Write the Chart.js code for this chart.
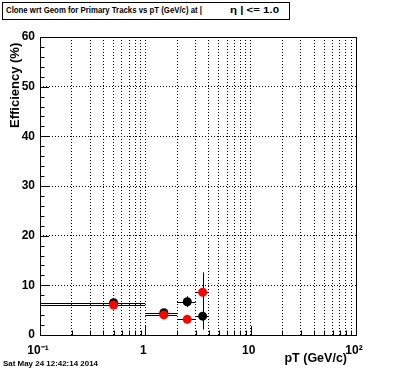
<!DOCTYPE html>
<html>
<head>
<meta charset="utf-8">
<script src="https://cdn.jsdelivr.net/npm/chart.js@4/dist/chart.umd.min.js"></script>
<style>
  html, body { margin: 0; padding: 0; background: #fff; }
  #wrap { position: relative; width: 396px; height: 372px; overflow: hidden; }
  #c { position: absolute; left: 0; top: 0; }
  .txt { position: absolute; font-family: "Liberation Sans", Arial, sans-serif; font-weight: bold; color: #000; white-space: nowrap; transform-origin: 0 0; }
  #titleBox { position: absolute; left: 2px; top: 2px; width: 288px; height: 18px; border: 1px solid #000; background: #fff; box-sizing: border-box; }
</style>
</head>
<body>
<div id="wrap">
  <canvas id="c" width="396" height="372"></canvas>
  <div id="titleBox"></div>
  <span class="txt" id="t1" style="left:6px; top:5px; font-size:9px;">Clone wrt Geom for Primary Tracks vs pT (GeV/c) at |</span>
  <span class="txt" id="t2" style="left:230px; top:5px; font-size:9px;">η | &lt;= 1.0</span>
  <span class="txt" id="ytitle" style="font-size:13px;">Efficiency (%)</span>
  <span class="txt" id="xtitle" style="font-size:12.5px;">pT (GeV/c)</span>
  <span class="txt" id="date" style="left:3px; top:359px; font-size:8px;">Sat May 24 12:42:14 2014</span>
</div>
<script>
// Clone efficiency wrt geometry, primary tracks, |eta| <= 1.0, per pT bin.
const binCenter = [0.5, 1.5, 2.5, 3.5];
const binLow = [0, 1, 2, 3];
const binHigh = [1, 2, 3, 4];

// black markers
const effBlack = [6.5, 4.5, 6.7, 3.8];
const errBlack = [0.3, 0.3, 1.1, 2.7];

// red markers
const effRed = [6.05, 4.05, 3.15, 8.6];
const errRed = [0.3, 0.3, 0.4, 4.0];

// log axis ticks, labels only on decades
const xTickValues = [
  0.1,0.2,0.3,0.4,0.5,0.6,0.7,0.8,0.9,
  1,2,3,4,5,6,7,8,9,
  10,20,30,40,50,60,70,80,90,100
];
const xTickLabels = { 0.1: '10⁻¹', 1: '1', 10: '10', 100: '10²' };

// squeeze the small ROOT-style texts to their widths in the picture
function fitWidth(id, w) {
  const el = document.getElementById(id);
  const s = w / el.getBoundingClientRect().width;
  el.style.transform = 'scaleX(' + s + ')';
}
fitWidth('t1', 196);
fitWidth('t2', 49);
fitWidth('date', 95);

const yt = document.getElementById('ytitle');
const yth = yt.getBoundingClientRect().height;
yt.style.left = (14 - yth / 2) + 'px';
yt.style.top = '128px';
yt.style.transform = 'rotate(-90deg)';

const xt = document.getElementById('xtitle');
const xtw = xt.getBoundingClientRect().width;
xt.style.left = (347 - xtw) + 'px';
xt.style.top = '351px';

function toPoints(ys) {
  return binCenter.map((x, i) => ({ x: x, y: ys[i] }));
}

// error bars: horizontal = bin width, vertical = stat error, all in black
const errorBars = {
  id: 'errorBars',
  beforeDatasetsDraw(chart) {
    const ctx = chart.ctx;
    const xs = chart.scales.x, ys = chart.scales.y;
    const area = chart.chartArea;
    ctx.save();
    ctx.beginPath();
    ctx.rect(area.left, area.top, area.right - area.left, area.bottom - area.top);
    ctx.clip();
    ctx.strokeStyle = '#000';
    ctx.lineWidth = 1;
    [[effBlack, errBlack], [effRed, errRed]].forEach(([eff, err]) => {
      eff.forEach((v, i) => {
        const lo = Math.max(binLow[i], xs.min);
        const x0 = xs.getPixelForValue(lo);
        const x1 = xs.getPixelForValue(binHigh[i]);
        const xc = xs.getPixelForValue(binCenter[i]);
        const y = Math.round(ys.getPixelForValue(v)) + 0.5;
        ctx.beginPath();
        ctx.moveTo(x0, y); ctx.lineTo(x1, y);
        const ya = ys.getPixelForValue(v - err[i]);
        const yb = ys.getPixelForValue(v + err[i]);
        const xr = Math.round(xc) + 0.5;
        ctx.moveTo(xr, ya); ctx.lineTo(xr, yb);
        ctx.stroke();
      });
    });
    ctx.restore();
  }
};

// frame and inward tick marks like ROOT
const frameTicks = {
  id: 'frameTicks',
  afterDraw(chart) {
    const ctx = chart.ctx;
    const xs = chart.scales.x, ys = chart.scales.y;
    const a = chart.chartArea;
    ctx.save();
    ctx.strokeStyle = '#000';
    ctx.lineWidth = 1;
    ctx.beginPath();
    for (let v = 0; v <= 60; v += 2) {
      const y = Math.round(ys.getPixelForValue(v)) + 0.5;
      const len = v % 10 === 0 ? 9 : 4.5;
      ctx.moveTo(a.left, y); ctx.lineTo(a.left + len, y);
    }
    xTickValues.forEach(v => {
      const x = Math.round(xs.getPixelForValue(v)) + 0.5;
      const len = xTickLabels[v] ? 9 : 4.5;
      ctx.moveTo(x, a.bottom); ctx.lineTo(x, a.bottom - len);
    });
    ctx.stroke();
    ctx.strokeRect(Math.round(a.left) + 0.5, Math.round(a.top) + 0.5,
      Math.round(a.right - a.left), Math.round(a.bottom - a.top));
    ctx.restore();
  }
};

const tickFont = { family: '"Liberation Sans", Arial, sans-serif', size: 12, weight: 'bold' };

new Chart(document.getElementById('c').getContext('2d'), {
  type: 'scatter',
  data: {
    datasets: [
      {
        data: toPoints(effBlack),
        backgroundColor: '#000000',
        borderWidth: 0,
        pointRadius: 4.5,
        pointHoverRadius: 4.5,
        order: 1
      },
      {
        data: toPoints(effRed),
        backgroundColor: '#ff0000',
        borderWidth: 0,
        pointRadius: 4.5,
        pointHoverRadius: 4.5,
        order: 0
      }
    ]
  },
  options: {
    responsive: false,
    animation: false,
    events: [],
    layout: { padding: { left: 0, top: 37, right: 40, bottom: 0 } },
    plugins: { legend: { display: false }, tooltip: { enabled: false } },
    scales: {
      x: {
        type: 'logarithmic',
        min: 0.1,
        max: 100,
        afterBuildTicks(scale) {
          scale.ticks = xTickValues.map(v => ({ value: v }));
        },
        afterFit(scale) { scale.height = 37; },
        grid: { color: '#000', lineWidth: 1, drawTicks: false },
        border: { display: false, dash: [1, 2] },
        ticks: {
          autoSkip: false,
          maxRotation: 0,
          labelOffset: -2,
          padding: 8,
          color: '#000',
          font: tickFont,
          callback: v => xTickLabels[v] || ''
        }
      },
      y: {
        min: 0,
        max: 60,
        afterFit(scale) { scale.width = 40; },
        grid: { color: '#000', lineWidth: 1, drawTicks: false },
        border: { display: false, dash: [1, 2] },
        ticks: {
          stepSize: 10,
          padding: 5,
          color: '#000',
          font: tickFont
        }
      }
    }
  },
  plugins: [errorBars, frameTicks]
});
</script>
</body>
</html>
